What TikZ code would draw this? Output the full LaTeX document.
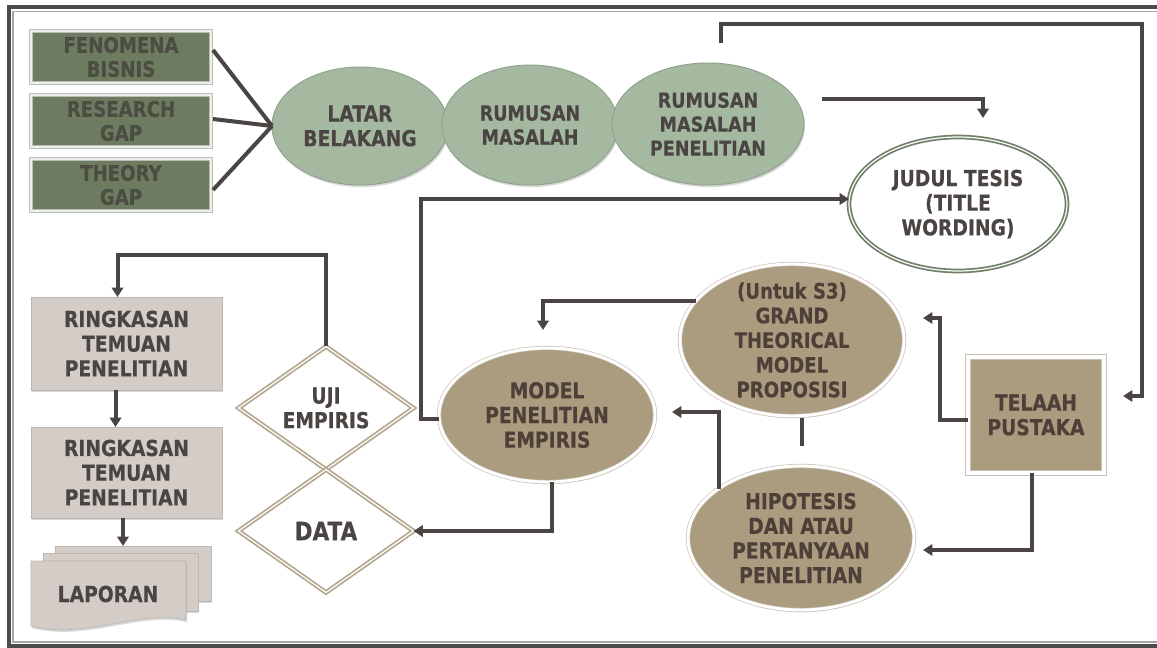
\documentclass[tikz,border=0pt]{standalone}
\usepackage{fontspec}
\newfontfamily\diafont[FakeStretch=0.85, BoldFeatures={FakeBold=0.35}]{DejaVu Sans}
\usetikzlibrary{shapes.geometric,arrows.meta,calc,shadows}

\definecolor{connc}{HTML}{4A4543}
\definecolor{txtc}{HTML}{4A4442}
\definecolor{gboxc}{HTML}{6D7C60}
\definecolor{gboxb}{HTML}{B9BFB3}
\definecolor{gboxd}{HTML}{EEF0EC}
\definecolor{gtxtc}{HTML}{4C4D42}
\definecolor{sagec}{HTML}{A5B9A1}
\definecolor{sageb}{HTML}{8FA38A}
\definecolor{judc}{HTML}{6F7F68}
\definecolor{tanc}{HTML}{AB9C80}
\definecolor{tanb}{HTML}{C9C1B3}
\definecolor{tantxt}{HTML}{4E4038}
\definecolor{grayc}{HTML}{D3CCC7}
\definecolor{grayb}{HTML}{BEB6B0}
\definecolor{diab}{HTML}{B4A78F}
\definecolor{frameD}{HTML}{4D4B4A}
\definecolor{frameL}{HTML}{A8A6A4}

\begin{document}
\begin{tikzpicture}[x=0.75pt,y=-0.75pt,
  every node/.style={align=center, inner sep=0pt, outer sep=0pt},
  lbl/.style={font=\diafont\bfseries\fontsize{16.5}{18.5}\selectfont, text=txtc},
  soft/.style={drop shadow={shadow xshift=0.8pt, shadow yshift=-1.6pt, opacity=0.25, fill=black!60}},
  conn/.style={draw=connc, line width=3pt},
  arr/.style={conn, -{Triangle[length=7pt,width=8.5pt]}},
  gbox/.style={lbl, rectangle, soft, fill=gboxc, draw=gboxb, double=gboxd,
    line width=0.6pt, double distance=1.6pt, minimum width=135pt,
    minimum height=39pt, text=gtxtc, font=\diafont\bfseries\fontsize{16}{18}\selectfont},
  sage/.style={lbl, ellipse, soft, inner sep=-8pt, fill=sagec, draw=sageb, line width=0.7pt},
  judulell/.style={lbl, ellipse, inner sep=-8pt, fill=white, draw=judc, double=white,
    line width=1.3pt, double distance=0.9pt},
  tanell/.style={lbl, ellipse, soft, inner sep=-8pt, fill=tanc, draw=tanb, double=white,
    line width=0.5pt, double distance=2.2pt, text=tantxt},
  tanbox/.style={lbl, rectangle, soft, fill=tanc, draw=tanb, double=white,
    line width=0.6pt, double distance=2.6pt, text=tantxt},
  graybox/.style={lbl, rectangle, soft, fill=grayc, draw=grayb, line width=0.6pt},
  sheet/.style={rectangle, soft, fill=grayc, draw=grayb, line width=0.5pt},
  dia/.style={lbl, diamond, aspect=1.42, fill=white, draw=diab, double=white,
    line width=1.3pt, double distance=0.9pt}
]
\useasboundingbox (0,0) rectangle (1157,648);
\fill[white] (0,0) rectangle (1157,648);

% page frame
\draw[frameD, line width=2.4pt] (1157,7) -- (9,7) -- (9,646) -- (1157,646);
\draw[frameL, line width=0.9pt] (1157,11.5) -- (13,11.5) -- (13,642) -- (1157,642);

% sources of the background
\node[gbox] (fen)  at (121,57)  {FENOMENA\\BISNIS};
\node[gbox] (rgap) at (121,121) {RESEARCH\\GAP};
\node[gbox] (tgap) at (121,185) {THEORY\\GAP};

% problem chain
\node[sage, minimum width=132pt, minimum height=88.5pt] (latar) at (360,126) {LATAR\\BELAKANG};
\node[sage, minimum width=132pt, minimum height=90pt,
  font=\diafont\bfseries\fontsize{15.5}{18}\selectfont] (rm) at (530,125) {RUMUSAN\\MASALAH};
\node[sage, minimum width=144pt, minimum height=91.5pt,
  font=\diafont\bfseries\fontsize{15.5}{18}\selectfont] (rmp) at (708,124) {RUMUSAN\\MASALAH\\PENELITIAN};

\node[judulell, minimum width=163.5pt, minimum height=100.5pt] (judul) at (958,204)
  {JUDUL TESIS\\(TITLE\\WORDING)};

% theory and model
\node[tanell, minimum width=168pt, minimum height=114pt,
  font=\diafont\bfseries\fontsize{16}{18.5}\selectfont] (grand) at (792,340)
  {(Untuk S3)\\GRAND\\THEORICAL\\MODEL\\PROPOSISI};
\node[tanell, minimum width=162pt, minimum height=100.5pt] (model) at (547,415)
  {MODEL\\PENELITIAN\\EMPIRIS};
\node[tanell, minimum width=169.5pt, minimum height=108pt] (hip) at (801,538)
  {HIPOTESIS\\DAN ATAU\\PERTANYAAN\\PENELITIAN};
\node[tanbox, minimum width=102pt, minimum height=87pt] (tel) at (1036,415)
  {TELAAH\\PUSTAKA};

% empirical part
\node[dia, minimum width=131.25pt, minimum height=92.25pt] (uji) at (326,408) {UJI\\EMPIRIS};
\node[dia, minimum width=131.25pt, minimum height=92.25pt,
  font=\diafont\bfseries\fontsize{19}{21}\selectfont] (data) at (326,531) {DATA};

\node[graybox, minimum width=143.25pt, minimum height=69.75pt] (ring1) at (126.5,343.5)
  {RINGKASAN\\TEMUAN\\PENELITIAN};
\node[graybox, minimum width=143.25pt, minimum height=68.25pt] (ring2) at (126.5,472.5)
  {RINGKASAN\\TEMUAN\\PENELITIAN};

% report as a stack of documents
\node[sheet, minimum width=117pt, minimum height=41.25pt] (sheetc) at (133,573.5) {};
\node[sheet, minimum width=116.25pt, minimum height=43.5pt] (sheetb) at (120.5,582) {};
\path[soft, fill=grayc, draw=grayb, line width=0.5pt]
  (31,561) -- (186,561) -- (186,620) .. controls (140,609) and (85,640) .. (31,626) -- cycle;
\node[lbl] (lap) at (108,594) {LAPORAN};

% free ends of connectors
\coordinate (topstart) at (721,43);
\coordinate (topcorner) at (1142,24);
\coordinate (telin) at (1123,396);
\coordinate (rmpout) at (822,99);
\coordinate (judin) at (983,118);
\coordinate (modtop) at (543,330);
\coordinate (modright) at (672,412);
\coordinate (grandin) at (923,318);
\coordinate (hipin) at (923,550);

% connectors
\draw[conn] ($(fen.east)+(2,-7)$) -- (latar.west);
\draw[conn] ($(rgap.east)+(2,-2)$) -- (latar.west);
\draw[conn] ($(tgap.east)+(2,5)$) -- (latar.west);

\draw[arr] (topstart) |- (topcorner) |- (telin);
\draw[arr] (rmpout) -| (judin);
\draw[arr] ($(model.west)+(0,4)$) -- ++(-18,0) |- ($(judul.west)+(0,-5)$);
\draw[arr] (grand.158) -| (modtop);
\draw[arr] ($(hip.center)+(-82,-49)$) |- (modright);
\draw[conn] ($(grand.south)+(10,2)$) -- ++(0,28);
\draw[arr] ($(tel.west)+(0,5)$) -- ++(-28,0) |- (grandin);
\draw[arr] ($(tel.south)+(-4,0)$) |- (hipin);
\draw[arr] ($(model.south)+(5,0)$) |- (data.east);
\draw[arr] (uji.north) -- ++(0,-91) -| ($(ring1.north)+(-9,0)$);
\draw[arr] ($(ring1.south)+(-11,0)$) -- ($(ring2.north)+(-11,0)$);
\coordinate (r2s) at ($(ring2.south)+(-3.5,0)$);
\draw[arr] (r2s) -- (r2s |- sheetc.north);
\end{tikzpicture}
\end{document}
